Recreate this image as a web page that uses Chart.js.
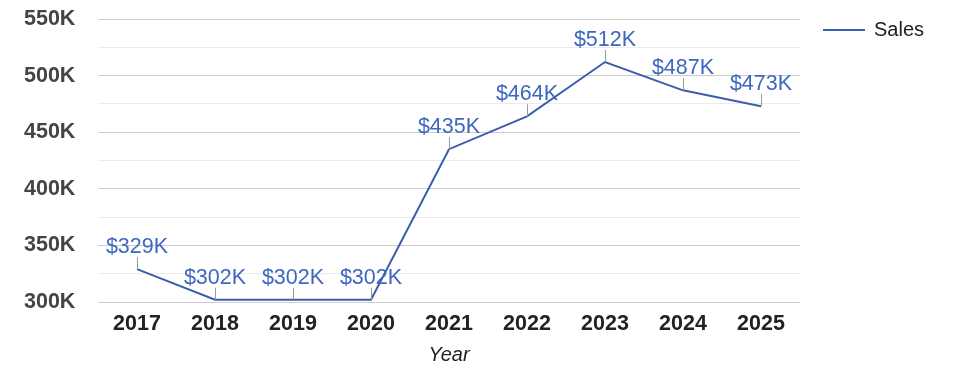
<!DOCTYPE html>
<html>
<head>
<meta charset="utf-8">
<script src="https://cdn.jsdelivr.net/npm/chart.js@4/dist/chart.umd.min.js"></script>
<style>
  html, body { margin: 0; padding: 0; background: #fff; }
  #wrap { width: 975px; height: 378px; position: relative; }
</style>
</head>
<body>
<div id="wrap"><canvas id="c" width="975" height="378"></canvas></div>
<script>
const categories = ['2017', '2018', '2019', '2020', '2021', '2022', '2023', '2024', '2025'];
const sales = [329000, 302000, 302000, 302000, 435000, 464000, 512000, 487000, 473000];
const seriesName = 'Sales';
const axisTitle = 'Year';

const FONT = '"Liberation Sans", Arial, sans-serif';
const LINE_COLOR = '#3a5eab';
const LABEL_COLOR = '#3f67bf';

const annotationPlugin = {
  id: 'annotations',
  afterDatasetsDraw(chart) {
    const ctx = chart.ctx;
    const meta = chart.getDatasetMeta(0);
    ctx.save();
    meta.data.forEach((pt, i) => {
      const x = pt.x, y = pt.y;
      ctx.strokeStyle = '#999999';
      ctx.lineWidth = 1;
      ctx.beginPath();
      ctx.moveTo(Math.round(x) + 0.5, y);
      ctx.lineTo(Math.round(x) + 0.5, y - 12);
      ctx.stroke();
      ctx.fillStyle = LABEL_COLOR;
      ctx.font = '21.5px ' + FONT;
      ctx.textAlign = 'center';
      ctx.textBaseline = 'alphabetic';
      ctx.fillText('$' + Math.round(sales[i] / 1000) + 'K', x, y - 16);
    });
    // legend
    ctx.strokeStyle = LINE_COLOR;
    ctx.lineWidth = 2;
    ctx.beginPath();
    ctx.moveTo(823, 30);
    ctx.lineTo(865, 30);
    ctx.stroke();
    ctx.fillStyle = '#222222';
    ctx.font = '20px ' + FONT;
    ctx.textAlign = 'left';
    ctx.textBaseline = 'middle';
    ctx.fillText(seriesName, 874, 30);
    ctx.restore();
  }
};

new Chart(document.getElementById('c'), {
  type: 'line',
  data: {
    labels: categories,
    datasets: [{
      label: seriesName,
      data: sales,
      borderColor: LINE_COLOR,
      backgroundColor: LINE_COLOR,
      borderWidth: 2,
      pointRadius: 0,
      pointHoverRadius: 0,
      tension: 0,
      fill: false
    }]
  },
  options: {
    responsive: false,
    animation: false,
    layout: { padding: { top: 19, right: 175, bottom: 0, left: 24 } },
    plugins: { legend: { display: false }, tooltip: { enabled: false } },
    scales: {
      x: {
        type: 'category',
        offset: true,
        grid: { display: false, drawTicks: false },
        border: { display: false },
        ticks: { color: '#222222', font: { family: FONT, size: 21.5, weight: 'bold' }, padding: 9, maxRotation: 0, autoSkip: false },
        title: { display: true, text: axisTitle, color: '#222222', font: { family: FONT, size: 20, style: 'italic' }, padding: { top: 0, bottom: 11 } },
        afterFit(scale) { scale.height = 76; }
      },
      y: {
        min: 300000,
        max: 550000,
        grid: {
          drawTicks: false,
          color: (c) => (c.tick && c.tick.value % 50000 === 0) ? '#cccccc' : '#ebebeb',
          lineWidth: 1
        },
        border: { display: false },
        ticks: {
          stepSize: 25000,
          autoSkip: false,
          padding: 0,
          crossAlign: 'far',
          color: '#444444',
          font: { family: FONT, size: 21.5, weight: 'bold' },
          callback: (v) => (v % 50000 === 0) ? (v / 1000) + 'K' : ''
        },
        afterFit(scale) { scale.width = 74; }
      }
    }
  },
  plugins: [annotationPlugin]
});
</script>
</body>
</html>
